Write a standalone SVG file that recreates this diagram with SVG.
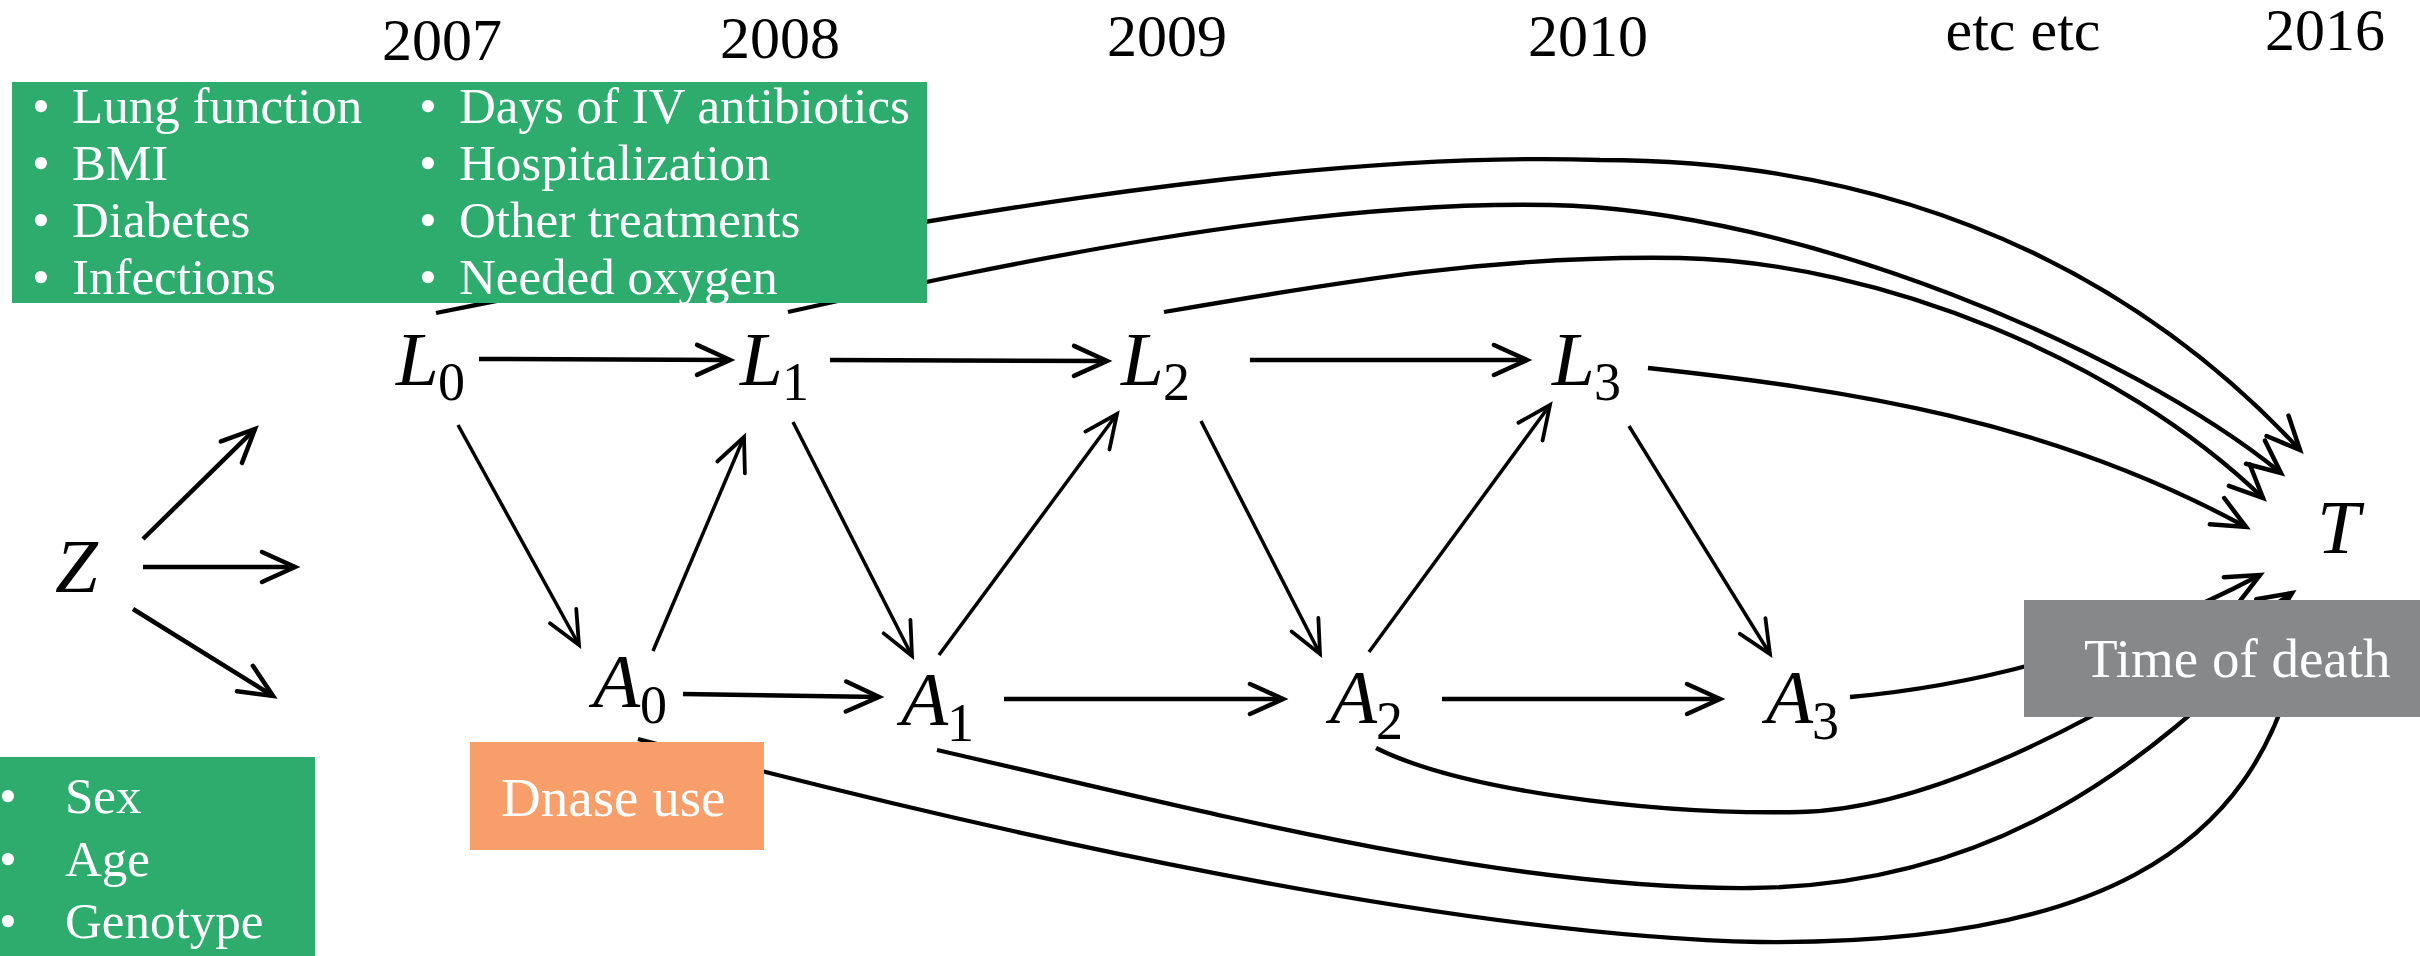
<svg xmlns="http://www.w3.org/2000/svg" width="2420" height="956" viewBox="0 0 2420 956">
  <style>
    .edge { fill: none; stroke: #000; stroke-width: 4.5; }
    .diag { stroke-width: 3.5; }
    .curve { stroke-width: 4.3; }
    .box-text { font-family: "Liberation Serif", "DejaVu Serif", serif; font-size: 51px; fill: #fff; }
    .box-text-lg { font-family: "Liberation Serif", "DejaVu Serif", serif; font-size: 55px; fill: #fff; }
    .math { font-family: "Liberation Serif", "DejaVu Serif", serif; font-style: italic; font-size: 77px; fill: #000; }
    .sub { font-family: "Liberation Serif", "DejaVu Serif", serif; font-size: 54px; fill: #000; }
    .year { font-family: "Liberation Serif", "DejaVu Serif", serif; font-size: 60px; fill: #000; text-anchor: middle; }
    .green { fill: #2EAC6E; }
  </style>
  <defs>
    <marker id="ah" markerUnits="userSpaceOnUse" viewBox="-40 -20 50 40" refX="0" refY="0" markerWidth="50" markerHeight="40" orient="auto">
      <path d="M-33,-15 L0,0 L-33,15" fill="none" stroke="#000" stroke-width="4.5" stroke-linecap="round"/>
    </marker>
    <marker id="ah-thin" markerUnits="userSpaceOnUse" viewBox="-40 -20 50 40" refX="0" refY="0" markerWidth="50" markerHeight="40" orient="auto">
      <path d="M-33,-15 L0,0 L-33,15" fill="none" stroke="#000" stroke-width="3.8" stroke-linecap="round"/>
    </marker>
  </defs>

  <rect width="2420" height="956" fill="#fff"/>

  <!-- year labels along the top -->
  <g id="years">
    <text class="year" x="442" y="60">2007</text>
    <text class="year" x="780" y="58">2008</text>
    <text class="year" x="1167" y="56">2009</text>
    <text class="year" x="1588" y="56">2010</text>
    <text class="year" x="2023" y="50">etc etc</text>
    <text class="year" x="2325" y="50">2016</text>
  </g>

  <!-- connectors -->
  <g id="connectors">
    <!-- Z fan-out -->
    <line class="edge" x1="143" y1="539" x2="255" y2="429" marker-end="url(#ah)"/>
    <line class="edge" x1="143" y1="567" x2="295" y2="567" marker-end="url(#ah)"/>
    <line class="edge" x1="133" y1="609" x2="273" y2="696" marker-end="url(#ah)"/>

    <!-- L chain -->
    <line class="edge" x1="479" y1="359" x2="730" y2="360" marker-end="url(#ah)"/>
    <line class="edge" x1="830" y1="360" x2="1107" y2="361" marker-end="url(#ah)"/>
    <line class="edge" x1="1250" y1="360" x2="1527" y2="360" marker-end="url(#ah)"/>

    <!-- A chain -->
    <line class="edge" x1="683" y1="694" x2="879" y2="697" marker-end="url(#ah)"/>
    <line class="edge" x1="1004" y1="699" x2="1283" y2="699" marker-end="url(#ah)"/>
    <line class="edge" x1="1442" y1="699" x2="1720" y2="699" marker-end="url(#ah)"/>

    <!-- zig-zag between L and A -->
    <line class="edge diag" x1="458" y1="425" x2="579" y2="645" marker-end="url(#ah-thin)"/>
    <line class="edge diag" x1="653" y1="651" x2="744" y2="437" marker-end="url(#ah-thin)"/>
    <line class="edge diag" x1="793" y1="422" x2="912" y2="656" marker-end="url(#ah-thin)"/>
    <line class="edge diag" x1="939" y1="655" x2="1117" y2="414" marker-end="url(#ah-thin)"/>
    <line class="edge diag" x1="1201" y1="421" x2="1320" y2="654" marker-end="url(#ah-thin)"/>
    <line class="edge diag" x1="1369" y1="652" x2="1550" y2="405" marker-end="url(#ah-thin)"/>
    <line class="edge diag" x1="1629" y1="426" x2="1770" y2="654" marker-end="url(#ah-thin)"/>

    <!-- L nodes to T -->
    <path class="edge curve" d="M436,313 C900,220 1300,150 1600,160 C1950,160 2170,310 2300,450" marker-end="url(#ah)"/>
    <path class="edge curve" d="M788,312 C1000,265 1300,200 1550,205 C1800,210 2130,350 2281,473" marker-end="url(#ah)"/>
    <path class="edge curve" d="M1164,312 C1350,280 1500,255 1680,258 C1880,262 2120,360 2263,498" marker-end="url(#ah)"/>
    <path class="edge curve" d="M1648,368 C1850,390 2050,420 2246,527" marker-end="url(#ah)"/>

    <!-- A nodes to T -->
    <path class="edge curve" d="M1850,697 C1950,688 2100,660 2260,575" marker-end="url(#ah)"/>
    <path class="edge curve" d="M1376,748 C1460,790 1650,815 1800,812 C1950,809 2150,690 2292,593" marker-end="url(#ah)"/>
    <path class="edge curve" d="M937,750 C1200,810 1500,890 1750,888 C2000,886 2150,760 2275,635" marker-end="url(#ah)"/>
    <path class="edge curve" d="M638,739 C1000,835 1450,935 1760,942 C2080,945 2260,860 2300,640" marker-end="url(#ah)"/>
  </g>

  <!-- time-varying covariates -->
  <g id="box-covariates">
    <rect class="green" x="12" y="82" width="391" height="221"/>
    <text class="box-text" x="32" y="123">•</text>
    <text class="box-text" x="72" y="123">Lung function</text>
    <text class="box-text" x="32" y="180">•</text>
    <text class="box-text" x="72" y="180">BMI</text>
    <text class="box-text" x="32" y="237">•</text>
    <text class="box-text" x="72" y="237">Diabetes</text>
    <text class="box-text" x="32" y="294">•</text>
    <text class="box-text" x="72" y="294">Infections</text>
  </g>

  <g id="box-treatments">
    <rect class="green" x="403" y="82" width="524" height="221"/>
    <text class="box-text" x="419" y="123">•</text>
    <text class="box-text" x="459" y="123">Days of IV antibiotics</text>
    <text class="box-text" x="419" y="180">•</text>
    <text class="box-text" x="459" y="180">Hospitalization</text>
    <text class="box-text" x="419" y="237">•</text>
    <text class="box-text" x="459" y="237">Other treatments</text>
    <text class="box-text" x="419" y="294">•</text>
    <text class="box-text" x="459" y="294">Needed oxygen</text>
  </g>

  <!-- baseline covariates -->
  <g id="box-baseline">
    <rect class="green" x="0" y="757" width="315" height="199"/>
    <text class="box-text" x="-1" y="813">•</text>
    <text class="box-text" x="65" y="813">Sex</text>
    <text class="box-text" x="-1" y="876">•</text>
    <text class="box-text" x="65" y="876">Age</text>
    <text class="box-text" x="-1" y="938">•</text>
    <text class="box-text" x="65" y="938">Genotype</text>
  </g>

  <g id="box-dnase">
    <rect x="470" y="742" width="294" height="108" fill="#F79E6A"/>
    <text class="box-text-lg" x="501" y="816">Dnase use</text>
  </g>

  <g id="box-death">
    <rect x="2024" y="600" width="396" height="117" fill="#87888A"/>
    <text class="box-text-lg" x="2084" y="677">Time of death</text>
  </g>

  <!-- variables -->
  <g id="node-Z"><text class="math" x="55" y="592">Z</text></g>
  <g id="node-L0"><text class="math" x="396" y="385">L</text><text class="sub" x="438" y="400">0</text></g>
  <g id="node-L1"><text class="math" x="740" y="385">L</text><text class="sub" x="782" y="400">1</text></g>
  <g id="node-L2"><text class="math" x="1121" y="385">L</text><text class="sub" x="1163" y="400">2</text></g>
  <g id="node-L3"><text class="math" x="1552" y="385">L</text><text class="sub" x="1594" y="400">3</text></g>
  <g id="node-A0"><text class="math" x="593" y="707">A</text><text class="sub" x="640" y="723">0</text></g>
  <g id="node-A1"><text class="math" x="901" y="725">A</text><text class="sub" x="947" y="741">1</text></g>
  <g id="node-A2"><text class="math" x="1330" y="723">A</text><text class="sub" x="1376" y="739">2</text></g>
  <g id="node-A3"><text class="math" x="1766" y="723">A</text><text class="sub" x="1812" y="739">3</text></g>
  <g id="node-T"><text class="math" x="2317" y="553">T</text></g>
</svg>
